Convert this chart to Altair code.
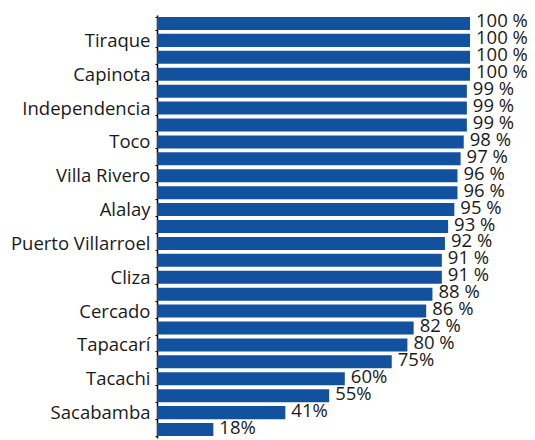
import altair as alt
import pandas as pd

names = [
    "Municipio A", "Tiraque", "Municipio B", "Capinota", "Municipio C",
    "Independencia", "Municipio D", "Toco", "Municipio E", "Villa Rivero",
    "Municipio F", "Alalay", "Municipio G", "Puerto Villarroel", "Municipio H",
    "Cliza", "Municipio I", "Cercado", "Municipio J", "Tapacarí",
    "Municipio K", "Tacachi", "Municipio L", "Sacabamba", "Municipio M",
]
shown = ["Tiraque", "Capinota", "Independencia", "Toco", "Villa Rivero",
         "Alalay", "Puerto Villarroel", "Cliza", "Cercado", "Tapacarí",
         "Tacachi", "Sacabamba"]
values = [100, 100, 100, 100, 99, 99, 99, 98, 97, 96, 96, 95, 93, 92, 91,
          91, 88, 86, 82, 80, 75, 60, 55, 41, 18]
labels = ["100 %", "100 %", "100 %", "100 %", "99 %", "99 %", "99 %", "98 %",
          "97 %", "96 %", "96 %", "95 %", "93 %", "92 %", "91 %", "91 %",
          "88 %", "86 %", "82 %", "80 %", "75%", "60%", "55%", "41%", "18%"]

df = pd.DataFrame({"name": names, "value": values, "label": labels})

shown_js = "[" + ",".join("'" + s + "'" for s in shown) + "]"

y_enc = alt.Y(
    "name:N",
    sort=names,
    scale=alt.Scale(paddingInner=0.23, paddingOuter=0.115),
    axis=alt.Axis(
        title=None,
        labelExpr=f"indexof({shown_js}, datum.value) >= 0 ? datum.label : ''",
        labelFont="Open Sans",
        labelFontSize=18.5,
        labelColor="#1a1a1a",
        labelPadding=5,
        labelLimit=300,
        tickBand="extent",
        tickSize=2,
        tickColor="#000000",
        domainColor="#000000",
        domainWidth=1.5,
        labelOverlap=False,
    ),
)

x_enc = alt.X("value:Q", scale=alt.Scale(domain=[0, 100]), axis=None)

bars = alt.Chart(df).mark_bar(color="#12519e").encode(x=x_enc, y=y_enc)

text = alt.Chart(df).mark_text(
    align="left", baseline="middle", dx=6, dy=-2,
    font="Open Sans", fontSize=18.5, color="#1a1a1a",
).encode(x=x_enc, y=alt.Y("name:N", sort=names), text="label:N")

chart = (bars + text).properties(
    width=313, height=423,
    autosize=alt.AutoSizeParams(type="none"),
    padding={"left": 149, "top": 7, "right": 57, "bottom": 2},
).configure_view(stroke=None).configure_axis(grid=False)

chart.save("out.html", embed_options={"renderer": "svg", "actions": False})
